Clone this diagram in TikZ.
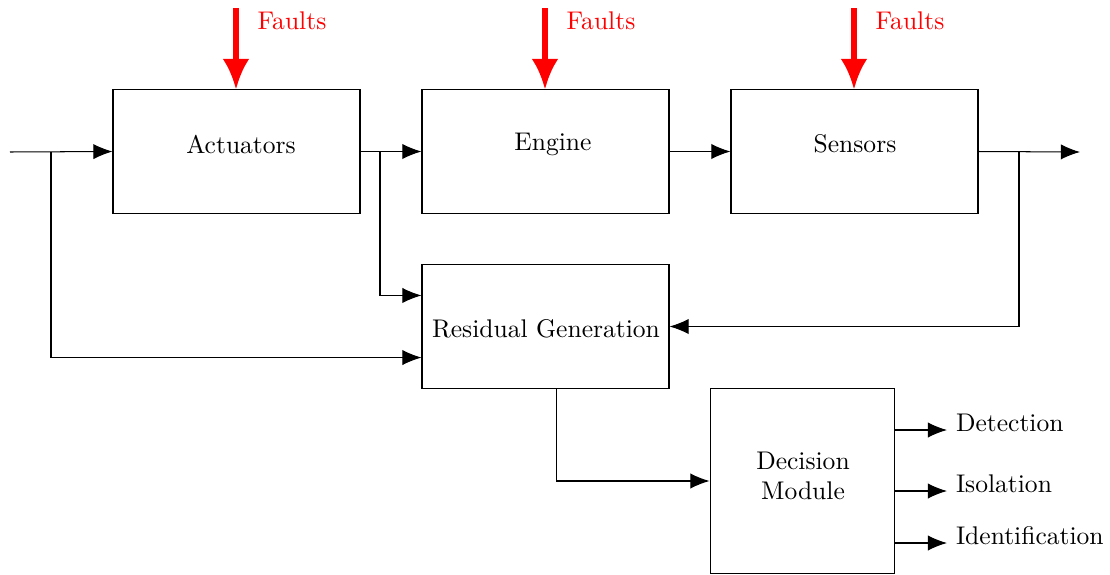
\documentclass[tikz,border=0pt]{standalone}
\usetikzlibrary{arrows.meta,calc}
\begin{document}
\begin{tikzpicture}[x=0.3915pt,y=-0.3915pt,
  blk/.style={draw,line width=0.4pt,minimum width=96.7pt,minimum height=48.2pt,inner sep=0pt},
  decblk/.style={draw,line width=0.4pt,minimum width=72.4pt,minimum height=72.8pt,inner sep=0pt,align=center},
  arr/.style={line width=0.4pt,-{Latex[length=7.5pt,width=6pt]}},
  fault/.style={red,line width=2pt,-{Latex[length=12pt,width=10.5pt]}},
  flbl/.style={red,anchor=center},
  olbl/.style={anchor=base west}]
\useasboundingbox (0,0) rectangle (1110,575);
% blocks
\node[blk] (act) at (236.5,151.5) {};
\node[blk] (eng) at (545.5,151.5) {};
\node[blk] (sen) at (854.5,151.5) {};
\node[blk] (res) at (545.5,326.5) {};
\node[decblk] (dec) at (802.5,481) {};
% block texts
\node (actt) at (241,144) {Actuators};
\node (engt) at (553,144) {Engine};
\node (sent) at (855,144) {Sensors};
\node (rest) at (546,329) {Residual Generation};
\node[align=center] (dect) at (803,476) {Decision\\Module};
% coordinates
\coordinate (in) at (10,152);
\coordinate (b1) at (51,152);
\coordinate (b2) at (380,152);
\coordinate (b3) at (1019,152);
\coordinate (out) at (1080,152);
\coordinate (r1) at ($(res.north west)!0.25!(res.south west)$);
\coordinate (r2) at ($(res.north west)!0.75!(res.south west)$);
\coordinate (rs) at ($(res.south west)!0.5425!(res.south east)$);
\coordinate (a1) at (947,430);
\coordinate (a2) at (947,491);
\coordinate (a3) at (947,543);
\coordinate (f1) at (236,8);
\coordinate (f2) at (545,8);
\coordinate (f3) at (854,8);
% main chain
\draw[arr] (in) -- (act.west);
\draw[arr] (act.east) -- (eng.west);
\draw[arr] (eng.east) -- (sen.west);
\draw[arr] (sen.east) -- (out);
% to residual
\draw[arr] (b1) |- (r2);
\draw[arr] (b2) |- (r1);
\draw[arr] (b3) |- (res.east);
\draw[arr] (rs) |- (dec.west);
% outputs
\draw[arr] (dec.east |- a1) -- (a1);
\draw[arr] (dec.east |- a2) -- (a2);
\draw[arr] (dec.east |- a3) -- (a3);
\node[olbl] (det) at ([yshift=-0.4pt]a1) {Detection};
\node[olbl] (iso) at ([yshift=-0.4pt]a2) {Isolation};
\node[olbl] (ide) at ([yshift=-0.4pt]a3) {Identification};
% faults
\draw[fault] (f1) -- (f1 |- act.north);
\draw[fault] (f2) -- (f2 |- eng.north);
\draw[fault] (f3) -- (f3 |- sen.north);
\node[flbl] (fl1) at (292,21) {Faults};
\node[flbl] (fl2) at (601,21) {Faults};
\node[flbl] (fl3) at (910,21) {Faults};
\end{tikzpicture}
\end{document}
